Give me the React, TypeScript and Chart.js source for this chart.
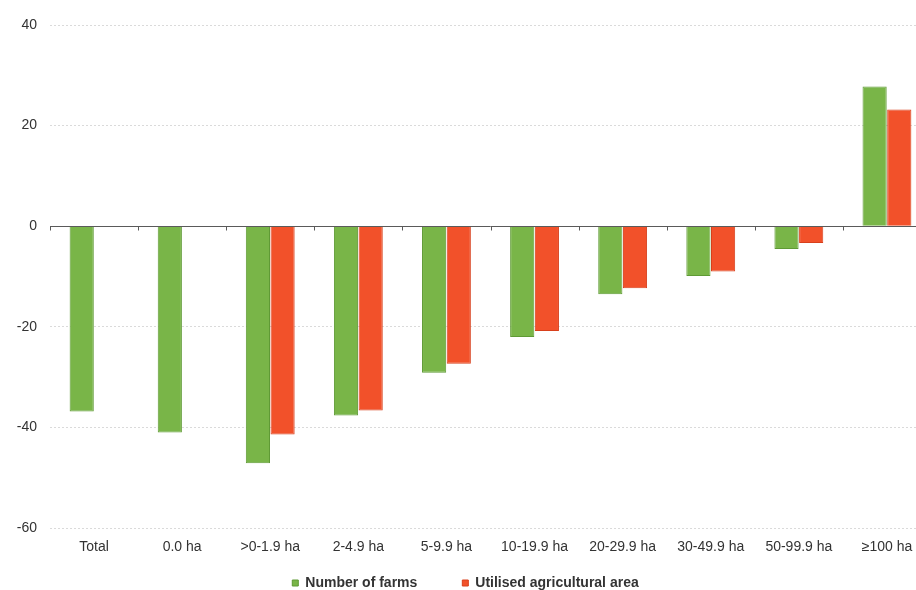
import React, { useEffect, useRef } from "react";
import { Chart, registerables } from "chart.js";

Chart.register(...registerables);

const categories = ["Total", "0.0 ha", ">0-1.9 ha", "2-4.9 ha", "5-9.9 ha", "10-19.9 ha", "20-29.9 ha", "30-49.9 ha", "50-99.9 ha", "\u2265100 ha"];
const farms = [-36.8, -41.0, -47.1, -37.6, -29.1, -22.0, -13.5, -9.9, -4.5, 27.8];
const area = [null, null, -41.4, -36.6, -27.3, -20.8, -12.3, -9.0, -3.3, 23.2];
const yTicks = [40, 20, 0, -20, -40, -60];
const seriesNames = ["Number of farms", "Utilised agricultural area"];

const FONT = "'Liberation Sans', Arial, sans-serif";

const zeroLinePlugin = {
  id: "zeroLine",
  afterDatasetsDraw(chart: any) {
    const { ctx, scales } = chart;
    const x = scales.x;
    const y = scales.y;
    const y0 = Math.round(y.getPixelForValue(0)) + 0.5;
    ctx.save();
    ctx.strokeStyle = "#5a5a5a";
    ctx.lineWidth = 1;
    ctx.beginPath();
    ctx.moveTo(x.left, y0);
    ctx.lineTo(x.right, y0);
    const n = categories.length;
    const w = (x.right - x.left) / n;
    for (let i = 0; i <= n; i++) {
      const px = Math.round(x.left + i * w) + 0.5;
      ctx.moveTo(px, y0);
      ctx.lineTo(px, y0 + 4);
    }
    ctx.stroke();
    ctx.restore();
  },
};

export default function App() {
  const ref = useRef<HTMLCanvasElement>(null);
  useEffect(() => {
    if (!ref.current) return;
    const chart = new Chart(ref.current, {
      type: "bar",
      data: {
        labels: categories,
        datasets: [
          {
            label: seriesNames[0],
            data: farms,
            backgroundColor: "#79b548",
            borderColor: "#5f9a35",
            borderWidth: 1,
            categoryPercentage: 0.56,
            barPercentage: 0.98,
          },
          {
            label: seriesNames[1],
            data: area as any,
            backgroundColor: "#f2512a",
            borderColor: "#d8401c",
            borderWidth: 1,
            categoryPercentage: 0.56,
            barPercentage: 0.98,
          },
        ],
      },
      options: {
        responsive: false,
        animation: false,
        layout: { padding: { top: 25, right: 0, left: 0, bottom: 0 } },
        plugins: {
          tooltip: { enabled: false },
          legend: {
            position: "bottom",
            labels: {
              usePointStyle: true,
              pointStyle: "rect",
              boxWidth: 6,
              boxHeight: 6,
              padding: 17,
              color: "#333",
              font: { family: FONT, size: 14, weight: "bold" },
              generateLabels(c: any) {
                const items = Chart.defaults.plugins.legend.labels.generateLabels(c);
                items.forEach((it: any, i: number) => {
                  if (i === 0) it.text = it.text + "\u2003\u2003";
                });
                return items;
              },
            },
          },
        },
        scales: {
          x: {
            grid: { display: false },
            border: { display: false },
            ticks: { color: "#333", padding: 3, font: { family: FONT, size: 14 }, maxRotation: 0, autoSkip: false },
          },
          y: {
            min: -60,
            max: 40,
            afterFit(scale: any) {
              scale.width = 50;
            },
            afterBuildTicks(scale: any) {
              scale.ticks = yTicks.map((v) => ({ value: v }));
            },
            grid: {
              drawTicks: false,
              color: (c: any) => (c.tick && c.tick.value === 0 ? "rgba(0,0,0,0)" : "#dadada"),
            },
            border: { display: false, dash: [2, 2] },
            ticks: { color: "#333", padding: 13, font: { family: FONT, size: 14 } },
          },
        },
      },
      plugins: [zeroLinePlugin],
    });
    return () => chart.destroy();
  }, []);
  return (
    <div style={{ position: "fixed", left: 0, top: 0, width: 916, height: 590, overflow: "hidden", background: "#fff" }}>
      <canvas ref={ref} width={931} height={600} style={{ width: 931, height: 600, display: "block" }} />
    </div>
  );
}
